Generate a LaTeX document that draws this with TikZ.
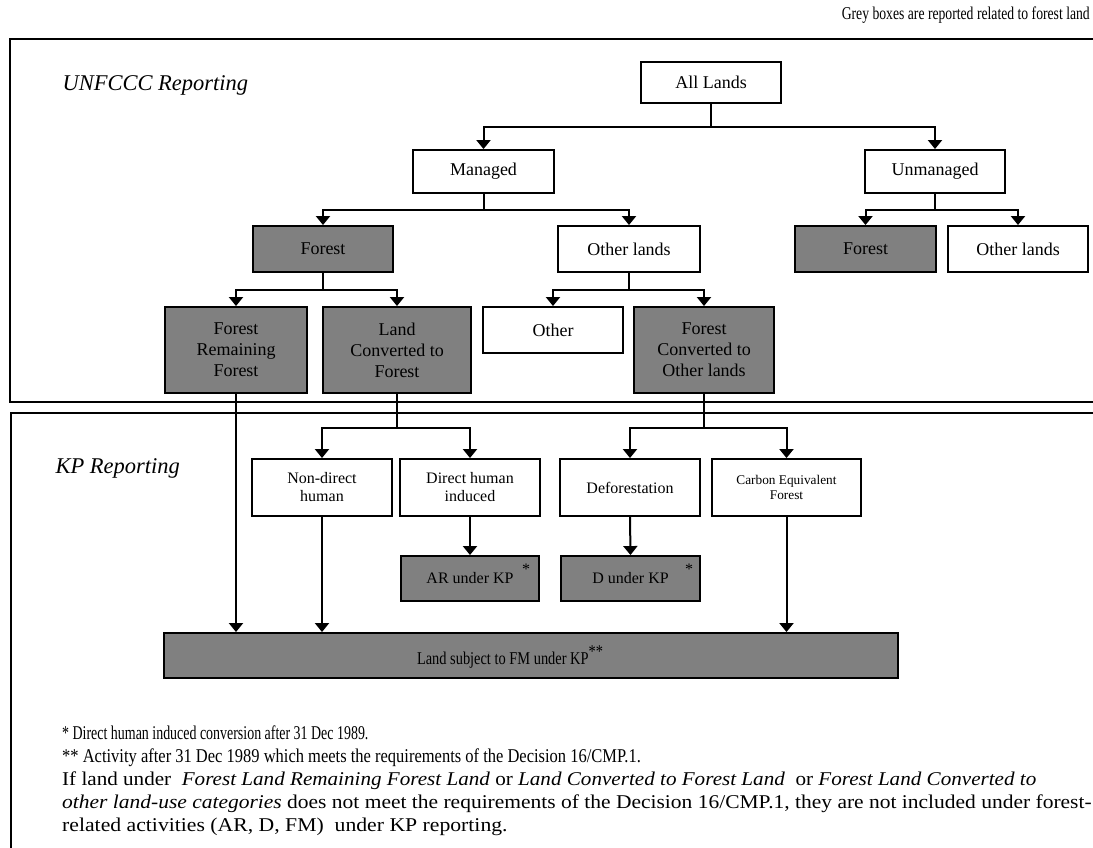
\documentclass[tikz,border=0pt]{standalone}
\usepackage{fontspec}
\setmainfont{Liberation Serif}
\usetikzlibrary{arrows.meta}
\definecolor{boxgrey}{HTML}{808080}
\begin{document}
\begin{tikzpicture}[x=1pt,y=-1pt,
  box/.style={draw, line width=1.9pt, inner sep=0pt, align=center,
    font=\fontsize{18}{21}\selectfont},
  wbox/.style={box, fill=white},
  gbox/.style={box, fill=boxgrey},
  sm/.style={font=\fontsize{16}{18}\selectfont},
  tiny/.style={font=\fontsize{13.3}{14.5}\selectfont},
  conn/.style={line width=2pt},
  arr/.style={conn, -{Triangle[width=14pt,length=9pt]}},
  frameline/.style={line width=2.3pt},
  title/.style={anchor=west, font=\itshape\fontsize{22.5}{26}\selectfont},
  foot/.style={anchor=base west, inner sep=0pt, font=\fontsize{19.5}{23}\selectfont}]
\useasboundingbox (0,0) rectangle (1093,848);
\clip (0,0) rectangle (1093,848);

% section frames
\draw[frameline] (1100,39) -- (10,39) -- (10,402) -- (1100,402);
\draw[frameline] (1100,413) -- (11,413) -- (11,860);

% headings
\node[title] (unfccc) at (59,85) {UNFCCC Reporting};
\node[title] (kprep) at (52,468) {KP Reporting};
\node[anchor=east, inner sep=0pt, font=\fontsize{18}{21}\selectfont] (legend) at (1090,15)
  {\scalebox{0.76}[1]{Grey boxes are reported related to forest land}};

% UNFCCC tree
\node[wbox, minimum width=140pt, minimum height=41pt] (all) at (711,82.5) {All Lands};
\node[wbox, minimum width=141pt, minimum height=43pt] (managed) at (483.5,171.5) {Managed};
\node[wbox, minimum width=140pt, minimum height=43pt] (unmanaged) at (935,171.5) {Unmanaged};
\node[gbox, minimum width=140pt, minimum height=46pt] (forestM) at (323,249) {Forest};
\node[wbox, minimum width=142pt, minimum height=46pt] (otherM) at (629,249) {Other lands};
\node[gbox, minimum width=141pt, minimum height=46pt] (forestU) at (865.5,249) {Forest};
\node[wbox, minimum width=140pt, minimum height=46pt] (otherU) at (1018,249) {Other lands};
\node[gbox, minimum width=142pt, minimum height=86pt] (frf) at (236,350) {Forest\\Remaining\\Forest};
\node[gbox, minimum width=148pt, minimum height=86pt] (lcf) at (397,350) {Land\\Converted to\\Forest};
\node[wbox, minimum width=140pt, minimum height=46pt] (other) at (553,330) {Other};
\node[gbox, minimum width=140pt, minimum height=86pt] (fco) at (704,350) {Forest\\Converted to\\Other lands};

% KP tree
\node[wbox, sm, minimum width=140pt, minimum height=57pt] (nondirect) at (322,487.5) {Non-direct\\human};
\node[wbox, sm, minimum width=140pt, minimum height=57pt] (direct) at (470,487.5) {Direct human\\induced};
\node[wbox, sm, minimum width=140pt, minimum height=57pt] (defor) at (630,487.5) {Deforestation};
\node[wbox, tiny, minimum width=149pt, minimum height=57pt] (carbon) at (786.5,487.5) {Carbon Equivalent\\Forest};
\node[gbox, sm, minimum width=138pt, minimum height=45pt] (ar) at (470,578.5) {AR under KP};
\node[gbox, sm, minimum width=139pt, minimum height=45pt] (dkp) at (630.5,578.5) {D under KP};
\node[gbox, minimum width=734pt, minimum height=45pt] (fm) at (531,655.5) {};
\node[inner sep=0pt, font=\fontsize{18}{21}\selectfont] (fmlabel) at (510,657)
  {\scalebox{0.8}[1]{Land subject to FM under KP\raisebox{7pt}{**}}};
\node[sm, inner sep=0pt] (arstar) at (526,569) {*};
\node[sm, inner sep=0pt] (dstar) at (689,569) {*};

% connectors
\draw[arr] (all.south) -- ++(0,23) -| (managed.north);
\draw[arr] (all.south) -- ++(0,23) -| (unmanaged.north);
\draw[arr] (managed.south) -- ++(0,16) -| (forestM.north);
\draw[arr] (managed.south) -- ++(0,16) -| (otherM.north);
\draw[arr] (unmanaged.south) -- ++(0,16) -| (forestU.north);
\draw[arr] (unmanaged.south) -- ++(0,16) -| (otherU.north);
\draw[arr] (forestM.south) -- ++(0,17) -| (frf.north);
\draw[arr] (forestM.south) -- ++(0,17) -| (lcf.north);
\draw[arr] (otherM.south) -- ++(0,17) -| (other.north);
\draw[arr] (otherM.south) -- ++(0,17) -| (fco.north);
\draw[arr] (lcf.south) -- ++(0,34) -| (nondirect.north);
\draw[arr] (lcf.south) -- ++(0,34) -| (direct.north);
\draw[arr] (fco.south) -- ++(0,34) -| (defor.north);
\draw[arr] (fco.south) -- ++(0,34) -| (carbon.north);
\draw[arr] (direct.south) -- (ar.north);
\draw[arr] (defor.south) -- (dkp.north);
\draw[arr] (frf.south) -- (frf.south |- fm.north);
\draw[arr] (nondirect.south) -- (nondirect.south |- fm.north);
\draw[arr] (carbon.south) -- (carbon.south |- fm.north);

% notes
\node[foot] (fn1) at (62,739) {\scalebox{0.715}[1]{* Direct human induced conversion after 31 Dec 1989.}};
\node[foot] (fn2) at (62,762) {\scalebox{0.846}[1]{** Activity after 31 Dec 1989 which meets the requirements of the Decision 16/CMP.1.}};
\node[foot] (fn3) at (62,785) {\scalebox{1.083}[1]{If land under \ \textit{Forest Land Remaining Forest Land} or \textit{Land Converted to Forest Land} \ or \textit{Forest Land Converted to}}};
\node[foot] (fn4) at (62,808) {\scalebox{1.102}[1]{\textit{other land-use categories} does not meet the requirements of the Decision 16/CMP.1, they are not included under forest-}};
\node[foot] (fn5) at (62,831) {\scalebox{1.113}[1]{related activities (AR, D, FM) \ under KP reporting.}};
\end{tikzpicture}
\end{document}
